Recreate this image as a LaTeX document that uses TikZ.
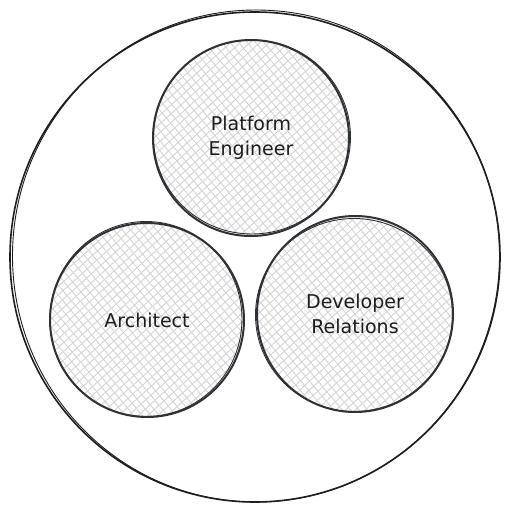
\documentclass[tikz,border=0pt]{standalone}
\usepackage{fontspec}
\setmainfont{DejaVu Sans}
\definecolor{ink}{HTML}{2E3236}
\definecolor{outk}{HTML}{1E1E1E}
\definecolor{txt}{HTML}{1E1E1E}
\definecolor{hatch}{HTML}{D4D4D4}
\newcommand\hatchdisc[3]{%
  \begin{scope}
    \clip (#1,#2) circle (#3);
    \begin{scope}[shift={(#1,#2)},rotate=40]
      \foreach \k in {-104,-97.5,...,104} {\draw[hatchline] (\k,-104) -- (\k,104);}
    \end{scope}
    \begin{scope}[shift={(#1,#2)},rotate=-48]
      \foreach \k in {-104,-97.5,...,104} {\draw[hatchline] (\k,-104) -- (\k,104);}
    \end{scope}
  \end{scope}}
\begin{document}
\begin{tikzpicture}[x=1pt,y=-1pt,
  sk/.style={draw=ink, line width=2pt},
  skthin/.style={draw=ink, line width=0.9pt},
  hatchline/.style={draw=hatch, line width=0.9pt},
  lbl/.style={font=\fontsize{19}{25}\selectfont, text=txt, align=center}]
\useasboundingbox (0,0) rectangle (512,512);
\fill[white] (0,0) rectangle (512,512);
% outer circle
\node[circle, minimum size=490pt, draw=outk, line width=1.6pt, inner sep=0pt] (outer) at (255,257) {};
\draw[draw=outk, line width=0.9pt] (256,256) ellipse (243.5 and 246);
% hatching
\hatchdisc{251}{138}{97}
\hatchdisc{147}{320}{96}
\hatchdisc{355}{314}{97}
% inner circles
\node[circle, minimum size=196pt, inner sep=0pt, sk, lbl] (pe) at (251,138) {Platform\\Engineer};
\draw[skthin] (252,137) ellipse (98.5 and 97);
\node[circle, minimum size=194pt, inner sep=0pt, sk, lbl] (ar) at (147,320) {Architect};
\draw[skthin] (146,319) ellipse (96 and 97.5);
\node[circle, minimum size=196pt, inner sep=0pt, sk, lbl] (dr) at (355,314) {Developer\\Relations};
\draw[skthin] (354,315) ellipse (98.5 and 96.5);
\end{tikzpicture}
\end{document}
